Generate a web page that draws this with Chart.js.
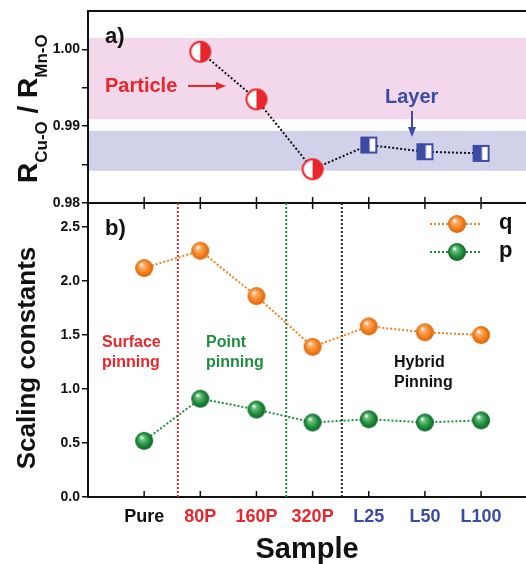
<!DOCTYPE html>
<html>
<head>
  <title>Scaling constants</title>
  <script src="https://cdn.jsdelivr.net/npm/chart.js"></script>
  <style>
    html, body { margin: 0; padding: 0; background: #fff; overflow: hidden; }
    #wrap { position: relative; width: 526px; height: 564px; overflow: hidden; }
    #wrap canvas { position: absolute; left: 0; }
  </style>
</head>
<body>
<div id="wrap">
  <canvas id="ratio-chart" width="526" height="215" style="top:0px"></canvas>
  <canvas id="scaling-chart" width="526" height="374" style="top:190px"></canvas>
</div>
<script>
  const samples = ['Pure', '80P', '160P', '320P', 'L25', 'L50', 'L100'];
  const sampleColors = ['#111111', '#e8262b', '#e8262b', '#e8262b', '#3c4ca5', '#3c4ca5', '#3c4ca5'];
  const ratioValues = [null, 0.9997, 0.9935, 0.9844, 0.98755, 0.98668, 0.98646];
  const qValues = [2.12, 2.28, 1.86, 1.39, 1.58, 1.525, 1.50];
  const pValues = [0.52, 0.91, 0.81, 0.69, 0.72, 0.69, 0.71];
  const particleBand = [0.9909, 1.0015];
  const layerBand = [0.9842, 0.9894];
  const pinningBounds = [0.6, 2.53, 3.52];
  const boundColors = ['#e8262b', '#1f8f3e', '#222222'];

  const RED = '#e8262b', GREEN = '#1f8f3e', BLUE = '#3c4ca5', ORANGE = '#f5821f';
  const FONT = '"Liberation Sans", Arial, sans-serif';

  // marker images
  function sphere(light, base, dark, r) {
    const c = document.createElement('canvas');
    c.width = c.height = 2 * r + 2;
    const g = c.getContext('2d');
    const m = r + 1;
    const grad = g.createRadialGradient(m - r * 0.3, m - r * 0.4, r * 0.05, m, m, r);
    grad.addColorStop(0, '#ffffff');
    grad.addColorStop(0.22, light);
    grad.addColorStop(0.65, base);
    grad.addColorStop(1, dark);
    g.fillStyle = grad;
    g.beginPath(); g.arc(m, m, r, 0, Math.PI * 2); g.fill();
    return c;
  }
  function halfCircle(r) {
    const c = document.createElement('canvas');
    c.width = c.height = 2 * r + 4;
    const g = c.getContext('2d');
    const m = r + 2;
    g.fillStyle = '#fff';
    g.beginPath(); g.arc(m, m, r, 0, Math.PI * 2); g.fill();
    g.fillStyle = RED;
    g.beginPath(); g.arc(m, m, r, -Math.PI / 2, Math.PI / 2); g.closePath(); g.fill();
    g.strokeStyle = RED; g.lineWidth = 2;
    g.beginPath(); g.arc(m, m, r, 0, Math.PI * 2); g.stroke();
    return c;
  }
  function halfSquare(s) {
    const c = document.createElement('canvas');
    c.width = c.height = s + 2;
    const g = c.getContext('2d');
    g.fillStyle = '#fff'; g.fillRect(1, 1, s, s);
    g.fillStyle = BLUE; g.fillRect(1, 1, s * 0.55, s);
    g.strokeStyle = BLUE; g.lineWidth = 2; g.strokeRect(2, 2, s - 2, s - 2);
    return c;
  }
  const orangeBall = sphere('#fbb071', ORANGE, '#d9640c', 9);
  const greenBall = sphere('#6cc07e', GREEN, '#0e6226', 9);
  const circleImg = halfCircle(10);
  const squareImg = halfSquare(17);

  function xTicks(scale) {
    scale.ticks = samples.map((s, i) => ({ value: i }));
  }
  function text(ctx, str, x, y, size, color, align) {
    ctx.font = 'bold ' + size + 'px ' + FONT;
    ctx.fillStyle = color;
    ctx.textAlign = align || 'left';
    ctx.textBaseline = 'middle';
    ctx.fillText(str, x, y);
  }
  function tickMarks(chart, y, dir) {
    const ctx = chart.ctx, xs = chart.scales.x;
    ctx.save();
    ctx.strokeStyle = '#111'; ctx.lineWidth = 1.5;
    samples.forEach((s, i) => {
      const px = xs.getPixelForValue(i);
      ctx.beginPath(); ctx.moveTo(px, y); ctx.lineTo(px, y + dir * 6); ctx.stroke();
    });
    ctx.restore();
  }

  const ratioDecor = {
    id: 'ratioDecor',
    beforeDatasetsDraw(chart) {
      const { ctx, chartArea: a, scales: { y } } = chart;
      ctx.save();
      ctx.fillStyle = '#f2d8ea';
      ctx.fillRect(a.left + 1, y.getPixelForValue(particleBand[1]), a.right - a.left, y.getPixelForValue(particleBand[0]) - y.getPixelForValue(particleBand[1]));
      ctx.fillStyle = '#d1d2ea';
      ctx.fillRect(a.left + 1, y.getPixelForValue(layerBand[1]), a.right - a.left, y.getPixelForValue(layerBand[0]) - y.getPixelForValue(layerBand[1]));
      ctx.restore();
    },
    afterDraw(chart) {
      const { ctx, chartArea: a } = chart;
      ctx.save();
      ctx.strokeStyle = '#111'; ctx.lineWidth = 2;
      ctx.beginPath();
      ctx.moveTo(a.left, a.top); ctx.lineTo(a.right, a.top);
      ctx.moveTo(a.left, a.bottom); ctx.lineTo(a.right, a.bottom);
      ctx.stroke();
      tickMarks(chart, a.bottom, -1);

      text(ctx, 'a)', a.left + 17, a.top + 26, 22, '#111');
      text(ctx, 'Particle', a.left + 17, a.top + 75, 20, RED);
      // arrows
      ctx.strokeStyle = RED; ctx.fillStyle = RED; ctx.lineWidth = 2;
      ctx.beginPath(); ctx.moveTo(a.left + 100, a.top + 75); ctx.lineTo(a.left + 130, a.top + 75); ctx.stroke();
      ctx.beginPath(); ctx.moveTo(a.left + 138, a.top + 75); ctx.lineTo(a.left + 128, a.top + 71); ctx.lineTo(a.left + 128, a.top + 79); ctx.fill();
      text(ctx, 'Layer', a.left + 297, a.top + 86, 20, BLUE);
      ctx.strokeStyle = BLUE; ctx.fillStyle = BLUE;
      ctx.beginPath(); ctx.moveTo(a.left + 324, a.top + 100); ctx.lineTo(a.left + 324, a.top + 118); ctx.stroke();
      ctx.beginPath(); ctx.moveTo(a.left + 324, a.top + 126); ctx.lineTo(a.left + 320, a.top + 116); ctx.lineTo(a.left + 328, a.top + 116); ctx.fill();

      // y title with subscripts
      ctx.translate(37, 183);
      ctx.rotate(-Math.PI / 2);
      ctx.fillStyle = '#111';
      ctx.textAlign = 'left';
      ctx.textBaseline = 'alphabetic';
      let x = 0;
      [['R', 28, 0], ['Cu-O', 17, 10], [' / R', 28, 0], ['Mn-O', 17, 10]].forEach(([s, size, dy]) => {
        ctx.font = 'bold ' + size + 'px ' + FONT;
        ctx.fillText(s, x, dy);
        x += ctx.measureText(s).width;
      });
      ctx.restore();
    }
  };

  const scalingDecor = {
    id: 'scalingDecor',
    afterDraw(chart) {
      const { ctx, chartArea: a } = chart;
      ctx.save();
      tickMarks(chart, a.bottom, -1);
      tickMarks(chart, a.top, 1);
      text(ctx, 'b)', a.left + 17, a.top + 26, 22, '#111');
      text(ctx, 'Surface', a.left + 14, a.top + 140, 16, RED);
      text(ctx, 'pinning', a.left + 14, a.top + 160, 16, RED);
      text(ctx, 'Point', a.left + 118, a.top + 140, 16, GREEN);
      text(ctx, 'pinning', a.left + 118, a.top + 160, 16, GREEN);
      text(ctx, 'Hybrid', a.left + 306, a.top + 160, 16, '#111');
      text(ctx, 'Pinning', a.left + 306, a.top + 180, 16, '#111');

      // legend
      [['q', ORANGE, orangeBall, 21], ['p', GREEN, greenBall, 49]].forEach(([lab, col, img, dy]) => {
        const ly = a.top + dy;
        ctx.strokeStyle = col; ctx.lineWidth = 2; ctx.setLineDash([2, 2]);
        ctx.beginPath(); ctx.moveTo(430, ly); ctx.lineTo(482, ly); ctx.stroke();
        ctx.setLineDash([]);
        ctx.drawImage(img, 457 - img.width / 2, ly - img.height / 2);
        text(ctx, lab, 499, ly - 1, 22, '#111');
      });

      ctx.translate(28, (a.top + a.bottom) / 2 + 8);
      ctx.rotate(-Math.PI / 2);
      text(ctx, 'Scaling constants', 0, 0, 26, '#111', 'center');
      ctx.restore();
    }
  };

  const yTickFont = { family: FONT, size: 14, weight: 'bold' };

  new Chart(document.getElementById('ratio-chart'), {
    type: 'line',
    data: {
      datasets: [{
        data: ratioValues.map((v, i) => ({ x: i, y: v })),
        borderColor: '#111',
        borderWidth: 2,
        borderDash: [2, 2],
        pointStyle: ctx => ctx.dataIndex >= 4 ? squareImg : circleImg,
        pointRadius: 10
      }]
    },
    options: {
      responsive: false,
      animation: false,
      layout: { autoPadding: false, padding: { top: 11, bottom: 12, left: 0, right: 0 } },
      plugins: { legend: { display: false }, tooltip: { enabled: false } },
      scales: {
        x: { type: 'linear', min: -1, max: 6.8, display: false },
        y: {
          min: 0.98, max: 1.005,
          afterFit: s => { s.width = 88; },
          afterBuildTicks: s => { s.ticks = [0.98, 0.985, 0.99, 0.995, 1.0].map(v => ({ value: v })); },
          ticks: {
            callback: v => Math.round(v * 1000) % 10 === 0 ? v.toFixed(2) : '',
            font: yTickFont, color: '#111', padding: 2
          },
          grid: { drawOnChartArea: false, tickLength: 6, color: '#111', lineWidth: 1.5 },
          border: { color: '#111', width: 2 }
        }
      }
    },
    plugins: [ratioDecor]
  });

  const boundSets = pinningBounds.map((b, i) => ({
    data: [{ x: b, y: 0 }, { x: b, y: 2.722 }],
    borderColor: boundColors[i],
    borderWidth: 2,
    borderDash: [2, 2],
    pointRadius: 0
  }));

  new Chart(document.getElementById('scaling-chart'), {
    type: 'line',
    data: {
      datasets: [{
        label: 'q',
        data: qValues.map((v, i) => ({ x: i, y: v })),
        borderColor: ORANGE, borderWidth: 2, borderDash: [2, 2],
        pointStyle: orangeBall, pointRadius: 9
      }, {
        label: 'p',
        data: pValues.map((v, i) => ({ x: i, y: v })),
        borderColor: GREEN, borderWidth: 2, borderDash: [2, 2],
        pointStyle: greenBall, pointRadius: 9
      }, ...boundSets]
    },
    options: {
      responsive: false,
      animation: false,
      layout: { autoPadding: false, padding: { top: 13, bottom: 0, left: 0, right: 0 } },
      plugins: { legend: { display: false }, tooltip: { enabled: false } },
      scales: {
        x: {
          type: 'linear', min: -1, max: 6.8,
          afterBuildTicks: xTicks,
          afterFit: s => { s.height = 67; },
          ticks: {
            autoSkip: false, maxRotation: 0, padding: 9,
            callback: v => samples[v],
            color: c => sampleColors[c.tick.value] || '#111',
            font: { family: FONT, size: 18, weight: 'bold' }
          },
          grid: { display: false, drawTicks: false },
          border: { color: '#111', width: 2 },
          title: {
            display: true, text: 'Sample', color: '#111',
            font: { family: FONT, size: 29, weight: 'bold', lineHeight: 1 },
            padding: { top: 0, bottom: 0 }
          }
        },
        y: {
          min: 0, max: 2.722,
          afterFit: s => { s.width = 88; },
          afterBuildTicks: s => { s.ticks = [0, 0.5, 1, 1.5, 2, 2.5].map(v => ({ value: v })); },
          ticks: { callback: v => v.toFixed(1), font: yTickFont, color: '#111', padding: 2 },
          grid: { drawOnChartArea: false, tickLength: 6, color: '#111', lineWidth: 1.5 },
          border: { color: '#111', width: 2 }
        }
      }
    },
    plugins: [scalingDecor]
  });
</script>
</body>
</html>
